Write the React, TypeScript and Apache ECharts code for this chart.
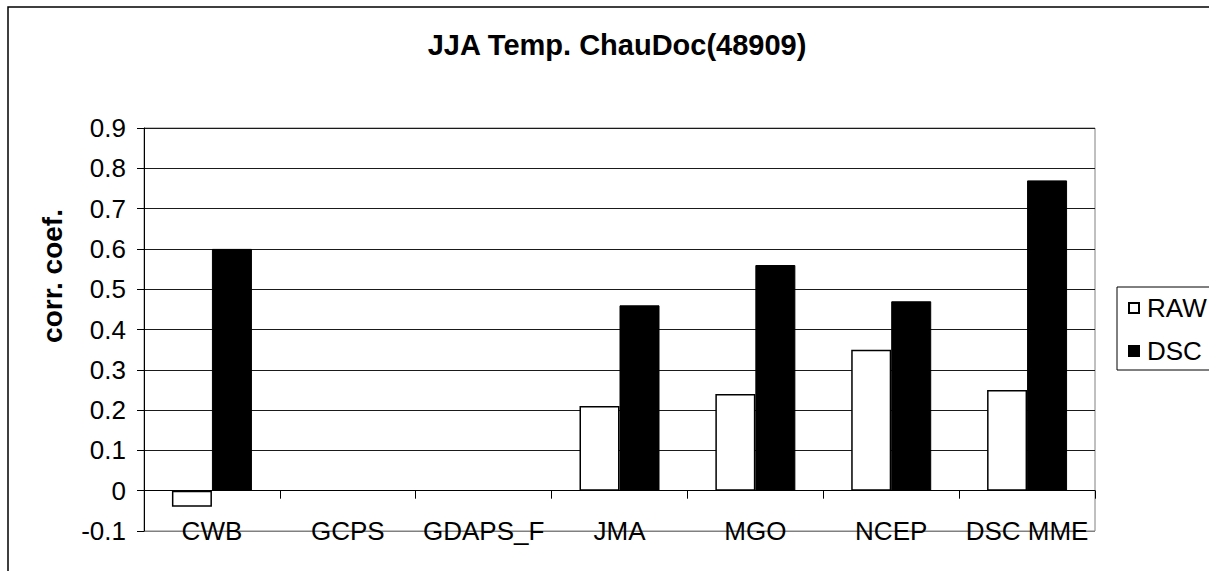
import React, { useEffect, useRef } from "react";
import * as echarts from "echarts";

const categories = ["CWB", "GCPS", "GDAPS_F", "JMA", "MGO", "NCEP", "DSC MME"];
const rawValues = [-0.04, null, null, 0.21, 0.24, 0.35, 0.25];
const dscValues = [0.6, null, null, 0.46, 0.56, 0.47, 0.77];
const seriesNames = ["RAW", "DSC"];
const titleText = "JJA Temp. ChauDoc(48909)";
const yAxisTitle = "corr. coef.";

const FONT = "'Liberation Sans', Arial, sans-serif";

export default function App() {
  const ref = useRef<HTMLDivElement>(null);
  useEffect(() => {
    document.body.style.margin = "0";
    const chart = echarts.init(ref.current!, null, { renderer: "svg" });
    chart.setOption({
      animation: false,
      backgroundColor: "#fff",
      textStyle: { fontFamily: FONT },
      grid: {
        left: 144,
        top: 128,
        right: 114,
        bottom: 40,
        show: true,
        borderColor: "#808080",
        borderWidth: 1,
        backgroundColor: "transparent",
      },
      xAxis: {
        type: "category",
        data: categories,
        axisLine: { onZero: true, lineStyle: { color: "#000", width: 1 } },
        axisTick: { show: true, length: 8, lineStyle: { color: "#000" } },
        axisLabel: { margin: -13, fontSize: 26, color: "#000", fontFamily: FONT, interval: 0 },
        splitLine: { show: false },
        z: 5,
      },
      yAxis: {
        type: "value",
        min: -0.1,
        max: 0.9,
        interval: 0.1,
        axisLine: { show: true, lineStyle: { color: "#000", width: 1 } },
        axisTick: { show: true, length: 7, lineStyle: { color: "#000" } },
        axisLabel: {
          margin: 18,
          fontSize: 26,
          color: "#000",
          fontFamily: FONT,
          formatter: (v: number) => String(Math.round(v * 10) / 10),
        },
        splitLine: {
          show: true,
          lineStyle: {
            color: ["#808080", "#1a1a1a", "#1a1a1a", "#1a1a1a", "#1a1a1a", "#1a1a1a", "#1a1a1a", "#1a1a1a", "#1a1a1a", "#1a1a1a", "#1a1a1a"],
            width: 1,
          },
        },
      },
      legend: {
        orient: "vertical",
        left: 1123,
        top: 290,
        itemWidth: 10,
        itemHeight: 10,
        itemGap: 17,
        icon: "rect",
        textStyle: { fontSize: 26, color: "#000", fontFamily: FONT, lineHeight: 26, padding: [0, 0, 0, 3] },
        data: seriesNames,
      },
      series: [
        {
          name: seriesNames[0],
          type: "bar",
          data: rawValues,
          barWidth: 40,
          barGap: "0%",
          itemStyle: { color: "#fff", borderColor: "#000", borderWidth: 1.5 },
        },
        {
          name: seriesNames[1],
          type: "bar",
          data: dscValues,
          barWidth: 40,
          barGap: "0%",
          itemStyle: { color: "#000", borderColor: "#000", borderWidth: 1 },
        },
      ],
      graphic: [
        {
          type: "rect",
          shape: { x: 8, y: 7, width: 1300, height: 700 },
          style: { fill: "none", stroke: "#000", lineWidth: 1.5 },
          silent: true,
          z: -1,
        },
        {
          type: "rect",
          shape: { x: 1117, y: 287, width: 200, height: 83 },
          style: { fill: "none", stroke: "#000", lineWidth: 1 },
          silent: true,
        },
        {
          type: "text",
          x: 617,
          y: 45,
          style: {
            text: titleText,
            font: `bold 29px ${FONT}`,
            fill: "#000",
            textAlign: "center",
            textVerticalAlign: "middle",
          },
        },
        {
          type: "text",
          x: 52,
          y: 276,
          rotation: Math.PI / 2,
          style: {
            text: yAxisTitle,
            font: `bold 28px ${FONT}`,
            fill: "#000",
            textAlign: "center",
            textVerticalAlign: "middle",
          },
        },
      ],
    });
    return () => chart.dispose();
  }, []);
  return <div ref={ref} style={{ width: 1209, height: 571 }} />;
}
